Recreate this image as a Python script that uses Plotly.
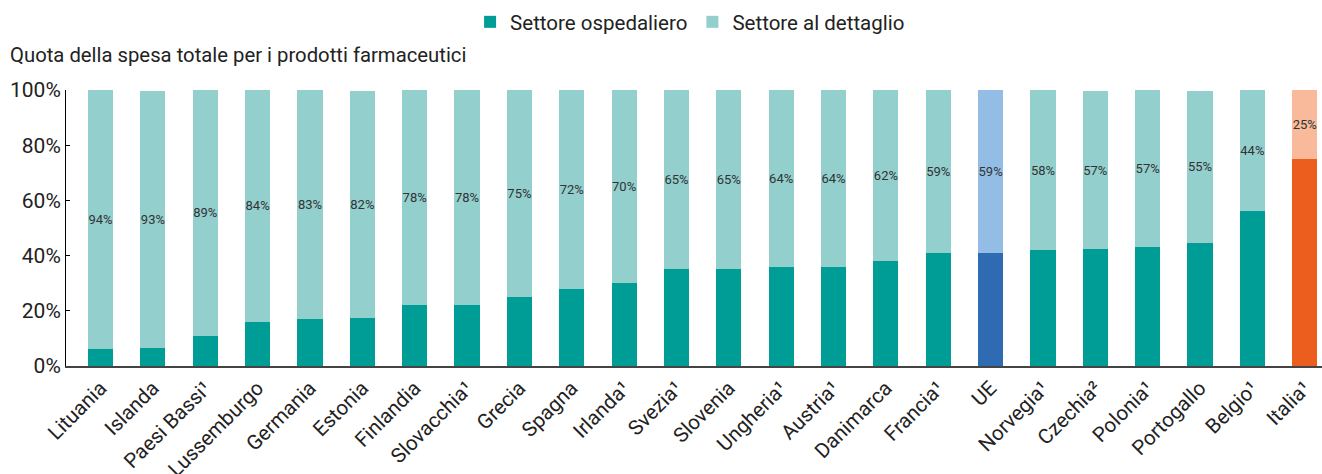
import plotly.graph_objects as go

# Share of total pharmaceutical spending by sector (%)
countries = ["Lituania", "Islanda", "Paesi Bassi¹", "Lussemburgo", "Germania", "Estonia",
             "Finlandia", "Slovacchia¹", "Grecia", "Spagna", "Irlanda¹", "Svezia¹",
             "Slovenia", "Ungheria¹", "Austria¹", "Danimarca", "Francia¹", "UE",
             "Norvegia¹", "Czechia²", "Polonia¹", "Portogallo", "Belgio¹", "Italia¹"]
# retail sector share (labelled on the bars)
retail = [94, 93, 89, 84, 83, 82, 78, 78, 75, 72, 70, 65, 65, 64, 64, 62, 59, 59,
          58, 57, 57, 55, 44, 25]
# hospital sector share
hospital = [6, 6.6, 11, 16, 17, 17.5, 22, 22, 25, 28, 30, 35, 35, 36, 36, 38, 41, 41,
            42, 42.5, 43, 44.7, 56, 75]
y_ticks = [0, 20, 40, 60, 80, 100]

HOSP = "#009C96"
RET = "#92CFCD"
hosp_colors = []
ret_colors = []
for c in countries:
    if c == "UE":
        hosp_colors.append("#2E6BB3"); ret_colors.append("#94BDE6")
    elif c.startswith("Italia"):
        hosp_colors.append("#EC5E1E"); ret_colors.append("#F8BA9A")
    else:
        hosp_colors.append(HOSP); ret_colors.append(RET)

FONT = "Roboto"
TXT = "#222222"

fig = go.Figure()
fig.add_trace(go.Bar(
    x=countries, y=hospital, name="Settore ospedaliero",
    marker=dict(color=hosp_colors, line=dict(width=0)),
))
fig.add_trace(go.Bar(
    x=countries, y=retail, name="Settore al dettaglio",
    marker=dict(color=ret_colors, line=dict(width=0)),
    text=[f"{v}%" for v in retail], textposition="inside",
    insidetextanchor="middle", textangle=0, constraintext="none",
    textfont=dict(family=FONT, size=13, color="#333333"),
))

fig.update_layout(
    barmode="stack",
    bargap=0.52,
    width=1322, height=474,
    margin=dict(l=66, r=0, t=90, b=108),
    plot_bgcolor="white", paper_bgcolor="white",
    font=dict(family=FONT, size=20, color=TXT),
    showlegend=True,
    legend=dict(orientation="h", xref="container", yref="container",
                traceorder="normal",
                x=0.522, xanchor="center", y=1 - 22 / 474, yanchor="middle",
                font=dict(size=20.5, color=TXT), itemwidth=30, tracegroupgap=0),
    annotations=[dict(text="Quota della spesa totale per i prodotti farmaceutici",
                      xref="paper", yref="paper", x=(8 - 66) / 1256, y=(366 - 55) / 276,
                      xanchor="left", yanchor="middle", showarrow=False,
                      font=dict(size=20.3, color=TXT))],
)
fig.update_xaxes(
    range=[-0.66, 23.33], tickangle=-45, showline=True, linecolor="#444444",
    linewidth=2, ticks="", showgrid=False, automargin=False,
    tickfont=dict(size=20.5, color=TXT),
)
fig.update_yaxes(
    range=[0, 100], tickmode="array", tickvals=y_ticks,
    ticktext=[f"{v}%" for v in y_ticks], automargin=False,
    showline=True, linecolor="black", linewidth=1, ticks="inside", ticklen=4,
    tickcolor="black", showgrid=False, zeroline=False,
    tickfont=dict(size=21, color=TXT),
)

fig.write_html("out.html")
